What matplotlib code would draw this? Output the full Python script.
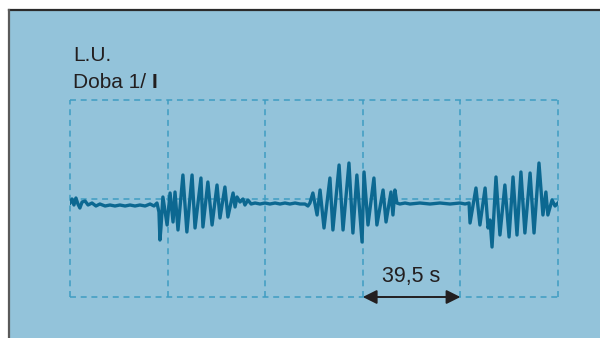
import matplotlib
matplotlib.use('Agg')
import matplotlib.pyplot as plt
from matplotlib.patches import Rectangle
from matplotlib.lines import Line2D

# trace: time (s) and amplitude (arbitrary units, baseline 0)
t_rest1 = [0.0, 0.8, 1.6, 2.4, 3.2, 4.0, 4.9, 6.1, 7.3, 8.9, 10.5, 12.1, 14.2, 16.2,
           18.2, 20.2, 22.3, 24.3, 26.3, 28.3, 30.4, 32.4, 34.0, 35.2, 36.0, 36.4, 36.8, 37.6]
a_rest1 = [0, 4, -2, 5, -1, -5, 1, 2, -2, 0, -3, -1, -3, -2,
           -3, -2, -3, -2, -3, -2, -3, -1, -3, 0, -9, -37, -25, 6]

t_burst1 = [39.3, 40.5, 41.7, 42.5, 43.7, 45.7, 47.3, 49.4, 50.6, 53.0, 53.8, 55.8, 57.5,
            59.5, 60.7, 62.7, 63.9, 66.0, 66.8, 67.6, 68.8, 70.0, 70.8, 72.0, 73.3]
a_burst1 = [-22, 10, -19, 11, -27, 28, -29, 28, -25, 25, -24, 21, -22,
            18, -15, 16, -14, 10, -4, 6, 1, 4, -2, 3, -1]

t_rest2 = [74.9, 76.9, 78.9, 80.9, 83.0, 85.0, 87.0, 89.0, 91.1, 93.1, 95.1, 96.3, 97.1]
a_rest2 = [0, -1, 0, -1, 0, -1, 0, -1, 0, -1, -1, -3, 0]

t_burst2 = [98.3, 100.0, 101.2, 102.8, 105.2, 106.4, 108.9, 110.5, 112.9, 114.5, 116.1,
            118.2, 119.0, 120.6, 123.0, 124.2, 126.7, 127.9, 129.9, 130.7, 131.5, 132.3]
a_burst2 = [10, -12, 13, -25, 25, -27, 38, -27, 40, -30, 28,
            -39, 31, -22, 25, -22, 13, -19, 11, -12, 13, 0]

t_rest3 = [133.5, 135.6, 137.6, 141.6, 145.7, 149.7, 153.8, 157.8, 159.9, 161.5]
a_rest3 = [-1, 0, -1, 0, -1, 0, -1, 0, -1, 0]

t_burst3 = [161.9, 164.3, 165.9, 168.0, 169.2, 170.0, 170.8, 172.4, 174.0, 176.0, 177.7,
            179.3, 180.9, 182.5, 184.1, 186.2, 187.8, 189.8, 191.4, 192.6, 193.4, 195.1,
            196.3, 197.5]
a_burst3 = [-20, 15, -22, 15, -25, -17, -44, 26, -32, 18, -34,
            26, -32, 31, -30, 30, -30, 40, -12, 11, -12, 3,
            -3, 0]

t = t_rest1 + t_burst1 + t_rest2 + t_burst2 + t_rest3 + t_burst3
amp = a_rest1 + a_burst1 + a_rest2 + a_burst2 + a_rest3 + a_burst3

division = 39.5          # seconds per grid column
n_div = 5
span_label = "39,5 s"
title1 = "L.U."
title2 = "Doba 1/ "
title2_bold = "I"

bg = '#93c3da'
trace_col = '#0c6891'
grid_col = '#3f9dc2'
ink = '#231f20'

plt.rcParams['font.family'] = ['Liberation Sans', 'DejaVu Sans']
plt.rcParams['lines.scale_dashes'] = False

fig = plt.figure(figsize=(6.0, 3.38), dpi=100)
fig.patch.set_facecolor('white')

# light blue panel with dark top/left edges
fig.patches.append(Rectangle((8.5 / 600, 0), 1, (338 - 9.5) / 338,
                             transform=fig.transFigure, facecolor=bg, edgecolor='none', zorder=-10))
fig.lines.append(Line2D([8.5 / 600, 1], [(338 - 9.5) / 338] * 2, transform=fig.transFigure,
                        color='#2b2b2b', lw=1.6, zorder=-9))
fig.lines.append(Line2D([8.5 / 600] * 2, [0, (338 - 9.5) / 338], transform=fig.transFigure,
                        color='#5a5a5a', lw=1.6, zorder=-9))

ax = fig.add_axes([70 / 600, 41 / 338, 488 / 600, 197 / 338])
ax.set_facecolor('none')
for s in ax.spines.values():
    s.set_visible(False)
ax.set_xticks([])
ax.set_yticks([])

ylo, yhi = -94, 103
ax.set_xlim(0, division * n_div)
ax.set_ylim(ylo, yhi)

dash = (0, (4.3, 3.4))
for k in range(n_div + 1):
    ax.axvline(k * division, color=grid_col, lw=1.1, ls=dash, clip_on=False, zorder=1)
for yv in (ylo, (ylo + yhi) / 2, yhi):
    ax.axhline(yv, color=grid_col, lw=1.1, ls=dash, clip_on=False, zorder=1)

ax.plot(t, amp, color=trace_col, lw=2.4, solid_joinstyle='round', zorder=3)

# span arrow on the last-but-one column
ax.annotate('', xy=(3 * division, ylo), xytext=(4 * division, ylo),
            arrowprops=dict(arrowstyle='<|-|>', color=ink, lw=1.4,
                            mutation_scale=21, shrinkA=0, shrinkB=0),
            annotation_clip=False, zorder=4)
ax.text(3.5 * division, ylo + 10, span_label, ha='center', va='bottom',
        fontsize=15.5, color=ink)

fig.text(73 / 600, (338 - 61) / 338, title1, fontsize=15, color=ink, va='baseline')
t2 = fig.text(73 / 600, (338 - 88) / 338, title2, fontsize=15, color=ink, va='baseline')
fig.canvas.draw()
bb = t2.get_window_extent()
fig.text(bb.x1 / fig.bbox.width, (338 - 88) / 338, title2_bold, fontsize=15,
         color=ink, va='baseline', fontweight='bold')

fig.savefig('out.png', dpi=100)
